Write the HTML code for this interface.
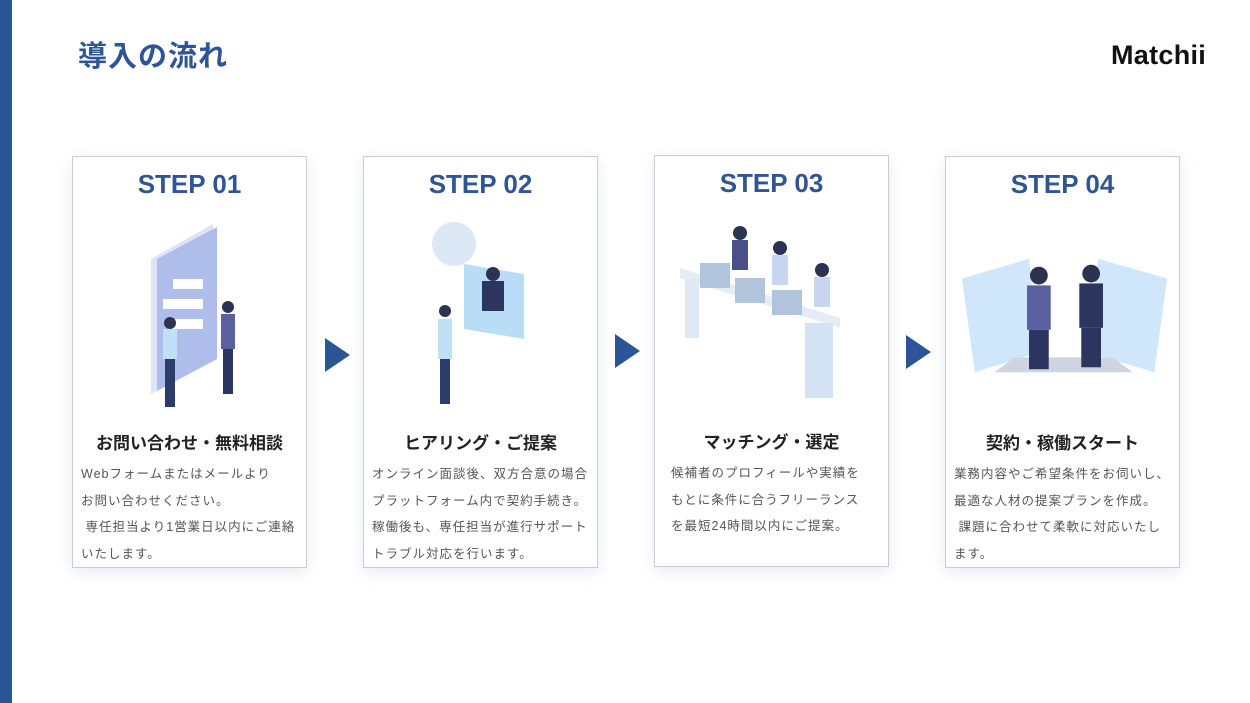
<!DOCTYPE html>
<html><head><meta charset="utf-8"><style>
body{margin:0;width:1250px;height:703px;background:#fff;position:relative;overflow:hidden;font-family:"Liberation Sans","Noto Sans CJK JP",sans-serif}
.bar{position:absolute;left:0;top:0;width:12px;height:703px;background:#2c5596}
.title{position:absolute;left:78px;top:33px;font-size:29px;font-weight:bold;color:#2f5597;letter-spacing:1px}
.logo{position:absolute;left:1111px;top:40px;font-size:27px;font-weight:bold;color:#111;letter-spacing:0.3px}
.card{position:absolute;top:156px;width:233px;height:410px;border:1px solid #c9ccd3;background:#fff;box-shadow:0 4px 14px rgba(100,120,170,.15)}
.step{position:absolute;top:12px;left:0;width:100%;text-align:center;font-size:26px;font-weight:bold;color:#2f5597}
.h{position:absolute;top:272px;left:0;width:100%;text-align:center;font-size:17px;font-weight:bold;color:#222}
.b{position:absolute;top:304px;left:8px;right:0;font-size:12.5px;line-height:26.5px;color:#555;letter-spacing:1px;white-space:nowrap}
.arr{position:absolute;width:0;height:0;border-top:17px solid transparent;border-bottom:17px solid transparent;border-left:25px solid #2c5596}
.ill{position:absolute;left:60px;top:62px;width:115px;height:190px}
</style></head><body>
<div class="bar"></div>
<div class="title">導入の流れ</div>
<div class="logo">Matchii</div>

<div class="card" style="left:72px">
<div class="step">STEP 01</div>
<svg class="ill" viewBox="0 0 115 190" style="left:60px;top:62px">
<polygon points="18,40 80,5 80,140 18,175" fill="#dfe3f7"/><polygon points="24,40 84,8 84,140 24,172" fill="#aebde9"/>
<rect x="40" y="60" width="30" height="10" fill="#fff"/><rect x="30" y="80" width="40" height="10" fill="#fff"/><rect x="35" y="100" width="35" height="10" fill="#fff"/>
<rect x="30" y="110" width="14" height="30" fill="#bfe0f7"/><rect x="32" y="140" width="10" height="48" fill="#2b3d6a"/>
<rect x="88" y="95" width="14" height="35" fill="#5a5f9e"/><rect x="90" y="130" width="10" height="45" fill="#2b3560"/>
<circle cx="37" cy="104" r="6" fill="#2b3350"/><circle cx="95" cy="88" r="6" fill="#2b3350"/></svg>
<div class="h">お問い合わせ・無料相談</div>
<div class="b">Webフォームまたはメールより<br>お問い合わせください。<br>&nbsp;専任担当より1営業日以内にご連絡<br>いたします。</div>
</div>
<div class="arr" style="left:325px;top:338px"></div>

<div class="card" style="left:363px">
<div class="step">STEP 02</div>
<svg class="ill" viewBox="0 0 115 190">
<circle cx="30" cy="25" r="22" fill="#dce8f5"/><polygon points="40,45 100,55 100,120 40,110" fill="#b9dcf7"/>
<rect x="58" y="62" width="22" height="30" fill="#2b3560"/><circle cx="69" cy="55" r="7" fill="#2b3350"/>
<rect x="14" y="100" width="14" height="40" fill="#bfe0f7"/><rect x="16" y="140" width="10" height="45" fill="#2b3d6a"/><circle cx="21" cy="92" r="6" fill="#2b3350"/></svg>
<div class="h">ヒアリング・ご提案</div>
<div class="b">オンライン面談後、双方合意の場合<br>プラットフォーム内で契約手続き。<br>稼働後も、専任担当が進行サポート<br>トラブル対応を行います。</div>
</div>
<div class="arr" style="left:615px;top:334px"></div>

<div class="card" style="left:654px;top:155px">
<div class="step">STEP 03</div>
<svg class="ill" viewBox="0 0 170 190" style="left:25px;width:170px">
<polygon points="0,50 160,100 160,110 0,60" fill="#e6ecf5"/><rect x="125" y="105" width="28" height="75" fill="#d3e3f3"/><rect x="5" y="60" width="14" height="60" fill="#dfe9f5"/>
<rect x="20" y="45" width="30" height="25" fill="#b0c4dc"/><rect x="55" y="60" width="30" height="25" fill="#b0c4dc"/><rect x="92" y="72" width="30" height="25" fill="#b0c4dc"/>
<circle cx="60" cy="15" r="7" fill="#2b3350"/><rect x="52" y="22" width="16" height="30" fill="#4a4f8a"/>
<circle cx="100" cy="30" r="7" fill="#2b3350"/><rect x="92" y="37" width="16" height="30" fill="#c9d6f2"/>
<circle cx="142" cy="52" r="7" fill="#2b3350"/><rect x="134" y="59" width="16" height="30" fill="#c9d6f2"/></svg>
<div class="h">マッチング・選定</div>
<div class="b" style="left:16px">候補者のプロフィールや実績を<br>もとに条件に合うフリーランス<br>を最短24時間以内にご提案。</div>
</div>
<div class="arr" style="left:906px;top:335px"></div>

<div class="card" style="left:945px">
<div class="step">STEP 04</div>
<svg class="ill" viewBox="0 0 215 125" style="left:14px;width:212px;top:96px;height:125px">
<polygon points="2,25 70,5 80,100 15,120" fill="#cfe6fb"/><polygon points="140,5 210,25 197,120 130,100" fill="#cfe6fb"/>
<polygon points="55,105 155,105 175,120 35,120" fill="#cfd5e0"/>
<circle cx="80" cy="22" r="9" fill="#2b3350"/><rect x="68" y="32" width="24" height="45" fill="#5a5f9e"/><rect x="70" y="77" width="20" height="40" fill="#2b3560"/>
<circle cx="133" cy="20" r="9" fill="#2b3350"/><rect x="121" y="30" width="24" height="45" fill="#2b3560"/><rect x="123" y="75" width="20" height="40" fill="#2b3560"/></svg>
<div class="h">契約・稼働スタート</div>
<div class="b">業務内容やご希望条件をお伺いし、<br>最適な人材の提案プランを作成。<br>&nbsp;課題に合わせて柔軟に対応いたし<br>ます。</div>
</div>
</body></html>
